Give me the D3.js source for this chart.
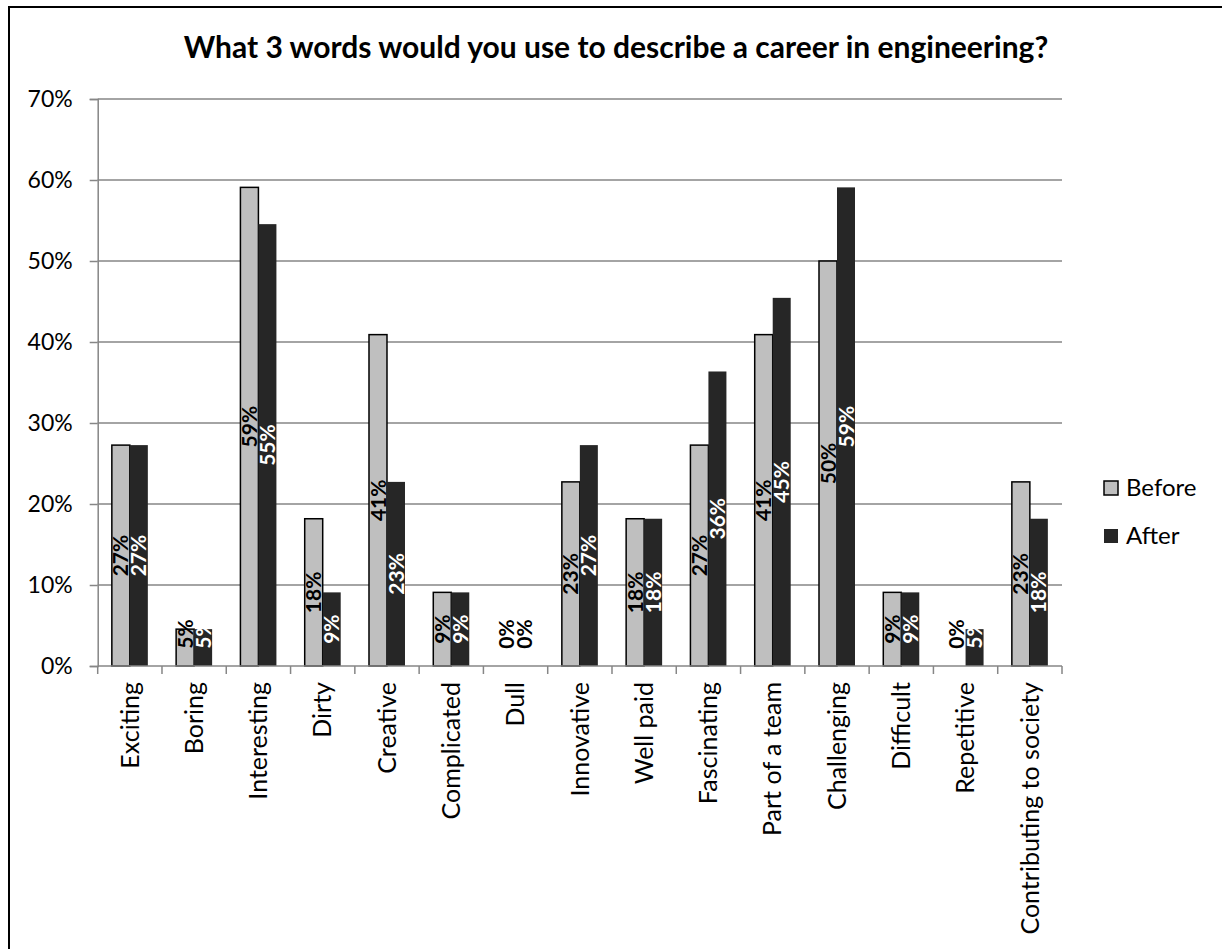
<!DOCTYPE html>
<html><head><meta charset="utf-8">
<script src="https://cdn.jsdelivr.net/npm/d3@7"></script>
<style>html,body{margin:0;padding:0;background:#fff;} svg{display:block;}</style>
</head><body>
<script>
const categories = ["Exciting","Boring","Interesting","Dirty","Creative","Complicated","Dull","Innovative","Well paid","Fascinating","Part of a team","Challenging","Difficult","Repetitive","Contributing to society"];
const seriesNames = ["Before","After"];
const beforeValues = [0.2727,0.0455,0.5909,0.1818,0.4091,0.0909,0,0.2273,0.1818,0.2727,0.4091,0.5000,0.0909,0,0.2273];
const afterValues  = [0.2727,0.0455,0.5455,0.0909,0.2273,0.0909,0,0.2727,0.1818,0.3636,0.4545,0.5909,0.0909,0.0455,0.1818];
const yTicks = [0,0.1,0.2,0.3,0.4,0.5,0.6,0.7];
const title = "What 3 words would you use to describe a career in engineering?";

const W = 1222, H = 949;
const FONT = "Lato, 'Open Sans', sans-serif";
const svg = d3.select("body").append("svg").attr("width", W).attr("height", H);

svg.append("rect").attr("x", 9).attr("y", 7).attr("width", 1300).attr("height", 1100)
  .attr("fill", "#fff").attr("stroke", "#000").attr("stroke-width", 2);

const plotL = 97.7, plotR = 1062, plotT = 99, plotB = 666;
const x = d3.scaleBand().domain(categories).range([plotL, plotR]).paddingInner(0).paddingOuter(0);
const xs = d3.scaleBand().domain(seriesNames).range([0, x.bandwidth()]).paddingInner(0).paddingOuter(0.786);
const y = d3.scaleLinear().domain([0, 0.7]).range([plotB, plotT]);

const grid = "#868686";
// gridlines
svg.append("g").selectAll("line").data(yTicks.filter(d => d > 0)).join("line")
  .attr("x1", plotL).attr("x2", plotR).attr("y1", d => y(d)).attr("y2", d => y(d))
  .attr("stroke", grid).attr("stroke-width", 1.5);

// y axis
const yAxis = svg.append("g").attr("transform", `translate(${plotL},0)`)
  .call(d3.axisLeft(y).tickValues(yTicks).tickFormat(d3.format(".0%")).tickSize(8).tickPadding(17));
yAxis.select(".domain").attr("stroke", grid).attr("stroke-width", 1.5);
yAxis.selectAll(".tick line").attr("stroke", grid).attr("stroke-width", 1.5);
yAxis.selectAll(".tick text").attr("font-family", FONT).attr("font-size", 23).attr("fill", "#000");

// bars
const rows = categories.map((c, i) => ({c, vals: [beforeValues[i], afterValues[i]]}));
const g = svg.append("g");
const fills = {Before: "#bfbfbf", After: "#262626"};
rows.forEach(r => {
  seriesNames.forEach((s, j) => {
    const v = r.vals[j];
    if (v > 0) {
      g.append("rect")
        .attr("x", x(r.c) + xs(s)).attr("width", xs.bandwidth())
        .attr("y", y(v)).attr("height", y(0) - y(v))
        .attr("fill", fills[s])
        .attr("stroke", s === "Before" ? "#000" : "none").attr("stroke-width", 1.5);
    }
  });
});

// x axis
const xAxisG = svg.append("g");
xAxisG.append("line").attr("x1", plotL).attr("x2", plotR).attr("y1", plotB).attr("y2", plotB)
  .attr("stroke", grid).attr("stroke-width", 1.5);
const bounds = categories.map(c => x(c)).concat([plotR]);
xAxisG.selectAll("line.tk").data(bounds).join("line").attr("class", "tk")
  .attr("x1", d => d).attr("x2", d => d).attr("y1", plotB).attr("y2", plotB + 8)
  .attr("stroke", grid).attr("stroke-width", 1.5);
xAxisG.selectAll("text").data(categories).join("text")
  .attr("transform", d => `translate(${x(d) + x.bandwidth() / 2},${plotB + 16}) rotate(-90)`)
  .attr("dy", "0.35em").attr("text-anchor", "end")
  .attr("font-family", FONT).attr("font-size", 25).attr("fill", "#000").text(d => d);

// data labels
rows.forEach(r => {
  seriesNames.forEach((s, j) => {
    const v = r.vals[j];
    const cx = x(r.c) + xs(s) + xs.bandwidth() / 2;
    const cy = Math.min((y(v) + y(0)) / 2, plotB - 32);
    g.append("text")
      .attr("transform", `translate(${cx},${cy}) rotate(-90)`)
      .attr("dy", "0.36em").attr("text-anchor", "middle")
      .attr("font-family", FONT).attr("font-weight", "bold").attr("font-size", 21)
      .attr("fill", (s === "After" && v > 0) ? "#fff" : "#000")
      .text(d3.format(".0%")(v));
  });
});

// legend
const leg = svg.append("g");
seriesNames.forEach((s, i) => {
  const ly = 488 + i * 48;
  leg.append("rect").attr("x", 1104).attr("y", ly - 7).attr("width", 14).attr("height", 14)
    .attr("fill", fills[s]).attr("stroke", s === "Before" ? "#000" : "none").attr("stroke-width", 1.5);
  leg.append("text").attr("x", 1126).attr("y", ly).attr("dy", "0.35em")
    .attr("font-family", FONT).attr("font-size", 24).text(s);
});

// title
svg.append("text").attr("x", 616).attr("y", 58).attr("text-anchor", "middle")
  .attr("font-family", FONT).attr("font-weight", "bold").attr("font-size", 30).text(title);
</script>
</body></html>
